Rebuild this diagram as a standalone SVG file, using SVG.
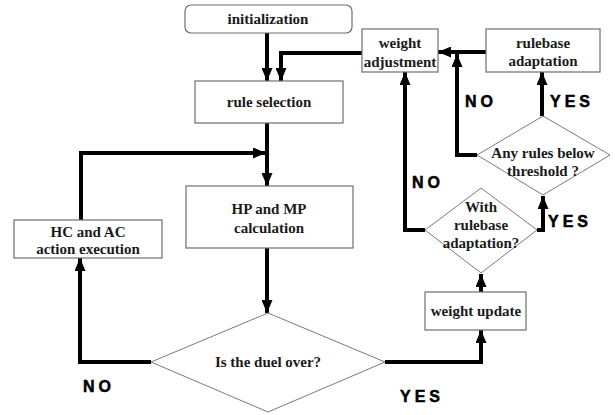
<svg xmlns="http://www.w3.org/2000/svg" width="615" height="415" viewBox="0 0 615 415">
<defs>
<style>
.box{fill:#fff;stroke:#6e6e6e;stroke-width:1.2}
.dia{fill:#fff;stroke:#7a7a7a;stroke-width:1}
.t{font-family:"Liberation Serif","Times New Roman",serif;font-weight:bold;font-size:15px;fill:#1a1a1a;text-anchor:middle}
.lbl{font-family:"Liberation Sans",Arial,sans-serif;font-weight:bold;font-size:16px;letter-spacing:4px;fill:#000;stroke:#000;stroke-width:0.5}
.c{fill:none;stroke:#000;stroke-width:4;stroke-linejoin:miter;marker-end:url(#ah)}
</style>
<marker id="ah" markerUnits="userSpaceOnUse" markerWidth="13" markerHeight="11" refX="13" refY="5.5" orient="auto">
<path d="M0,0 L13,5.5 L0,11 z" fill="#000"/>
</marker>
</defs>
<rect width="615" height="415" fill="#fff"/>
<g id="connectors">
<path class="c" d="M267,33 V81"/>
<path class="c" d="M362,53 H281 V81"/>
<path class="c" d="M267,122 V186"/>
<path class="c" d="M81,220 V153 H266"/>
<path class="c" d="M267,248 V313"/>
<path class="c" d="M151,362 H80 V258"/>
<path class="c" d="M385,362 H481 V330"/>
<path class="c" d="M481,292 V274"/>
<path class="c" d="M537,230 H543 V196"/>
<path class="c" d="M425,230 H405 V72"/>
<path class="c" d="M542,116 V72"/>
<path class="c" d="M477,155 H457 V54"/>
<path class="c" d="M486,52 H438"/>
</g>
<g id="initialization">
<rect class="box" x="185" y="5" width="167" height="28" rx="6"/>
<text class="t" x="268" y="24">initialization</text>
</g>
<g id="rule_selection">
<rect class="box" x="195" y="81" width="148" height="42"/>
<text class="t" x="269" y="107">rule selection</text>
</g>
<g id="hp_mp">
<rect class="box" x="186" y="186" width="167" height="62"/>
<text class="t" x="269" y="214">HP and MP</text>
<text class="t" x="269" y="233">calculation</text>
</g>
<g id="hc_ac">
<rect class="box" x="14" y="220" width="148" height="38"/>
<text class="t" x="88" y="237">HC and AC</text>
<text class="t" x="88" y="254">action execution</text>
</g>
<g id="duel_over">
<polygon class="dia" points="268,313 385,362 268,412 151,362"/>
<text class="t" x="268" y="367">Is the duel over?</text>
</g>
<g id="weight_update">
<rect class="box" x="425" y="292" width="101" height="38"/>
<text class="t" x="476" y="316">weight update</text>
</g>
<g id="with_rulebase">
<polygon class="dia" points="481,188 537,230 481,273 425,230"/>
<text class="t" x="481" y="212">With</text>
<text class="t" x="481" y="230">rulebase</text>
<text class="t" x="481" y="248">adaptation?</text>
</g>
<g id="any_rules">
<polygon class="dia" points="543,116 610,155 543,195 477,155"/>
<text class="t" x="543" y="158">Any rules below</text>
<text class="t" x="543" y="176">threshold ?</text>
</g>
<g id="weight_adjustment">
<rect class="box" x="362" y="29" width="76" height="43"/>
<text class="t" x="400" y="48">weight</text>
<text class="t" x="400" y="67">adjustment</text>
</g>
<g id="rulebase_adaptation">
<rect class="box" x="486" y="29" width="114" height="43"/>
<text class="t" x="543" y="48">rulebase</text>
<text class="t" x="543" y="66">adaptation</text>
</g>
<g id="labels">
<text class="lbl" x="465" y="107">NO</text>
<text class="lbl" x="550" y="107">YES</text>
<text class="lbl" x="412" y="188">NO</text>
<text class="lbl" x="548" y="227">YES</text>
<text class="lbl" x="83" y="392">NO</text>
<text class="lbl" x="400" y="402">YES</text>
</g>
</svg>
